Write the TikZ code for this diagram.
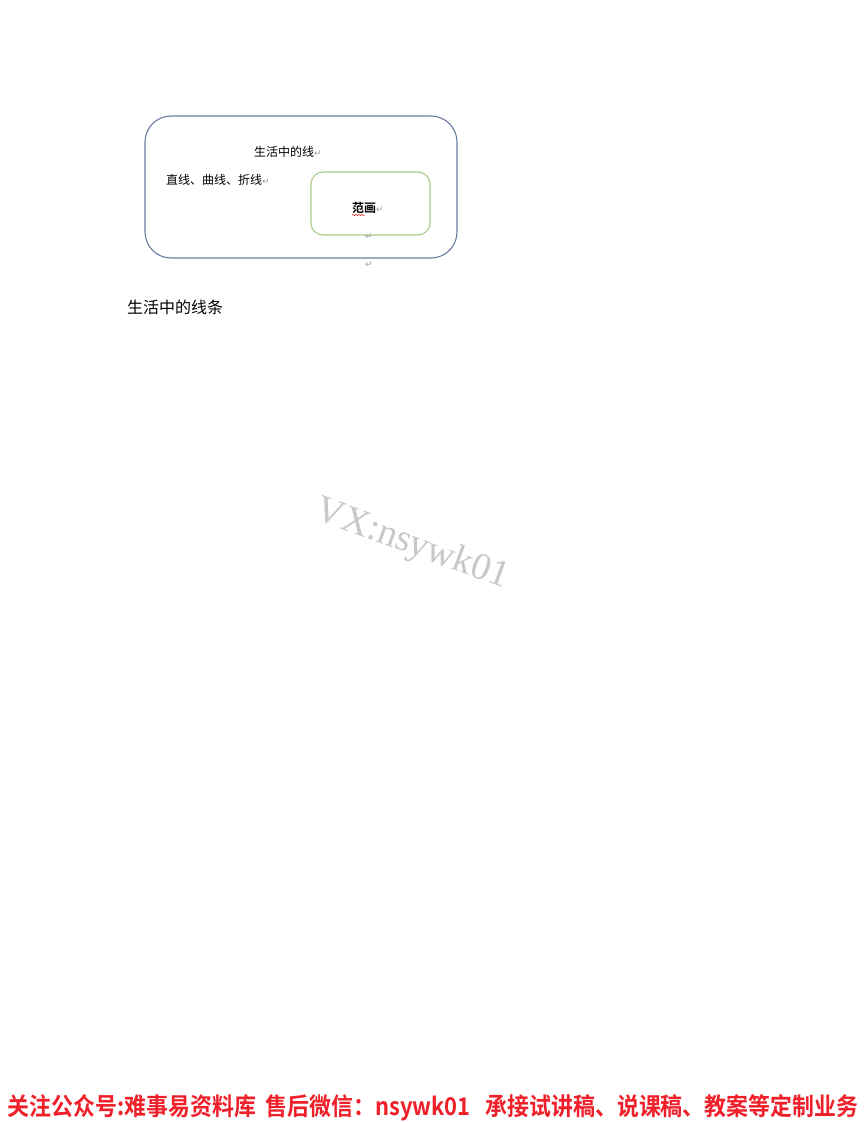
\documentclass[tikz,border=0pt]{standalone}
\usepackage{fontspec}
\setmainfont{Liberation Serif}
\newfontfamily\cjk{Noto Sans CJK SC}
\newfontfamily\cjkb{Noto Sans CJK SC Bold}
\newfontfamily\dvs{DejaVu Sans}
\usetikzlibrary{decorations.pathmorphing}
\definecolor{outerc}{HTML}{6A7BA2}
\definecolor{innerc}{HTML}{A9CC8E}
\definecolor{markc}{HTML}{A0A0A0}
\definecolor{wmc}{HTML}{C8C8C8}
\definecolor{bannerc}{HTML}{F0202A}
\newcommand{\retmark}{{\dvs\fontsize{9}{10}\selectfont\textcolor{markc}{↵}}}
\begin{document}
\begin{tikzpicture}[x=1pt,y=-1pt,
  txt/.style={inner sep=0pt,font=\cjk\fontsize{12}{14}\selectfont},
  rmark/.style={inner sep=0pt,text=markc,font=\dvs\fontsize{9}{10}\selectfont}]
\useasboundingbox (0,0) rectangle (866,1122);
\fill[white] (0,0) rectangle (866,1122);
% outer box
\draw[outerc,line width=1.1pt,rounded corners=26pt] (145,116) rectangle (457,258);
% inner box
\draw[innerc,line width=1.1pt,rounded corners=12pt] (311,172) rectangle (430,235);
% texts
\node[txt,anchor=west] (t1) at (254,152) {生活中的线\retmark};
\node[txt,anchor=west] (t2) at (166,180) {直线、曲线、折线\retmark};
\node[txt,anchor=west] (t3) at (352,208) {\cjkb 范画\retmark};
\draw[red,decorate,decoration={snake,amplitude=0.8pt,segment length=3pt}] (352,215) -- (365,215);
\node[rmark] (m1) at (369,237) {↵};
\node[rmark] (m2) at (369,265) {↵};
\node[inner sep=0pt,anchor=west,font=\cjk\fontsize{16}{18}\selectfont] (title) at (127,307) {生活中的线条};
% watermark
\node[inner sep=0pt,rotate=-20,text=wmc,font=\fontsize{38}{40}\selectfont] (wm) at (412,545) {VX:nsywk01};
% banner
\node[inner sep=0pt,text=bannerc] (banner) at (433,1108) {\resizebox{850pt}{21pt}{\cjkb 关注公众号:难事易资料库\ \ 售后微信：nsywk01\ \ \ 承接试讲稿、说课稿、教案等定制业务}};
\end{tikzpicture}
\end{document}
